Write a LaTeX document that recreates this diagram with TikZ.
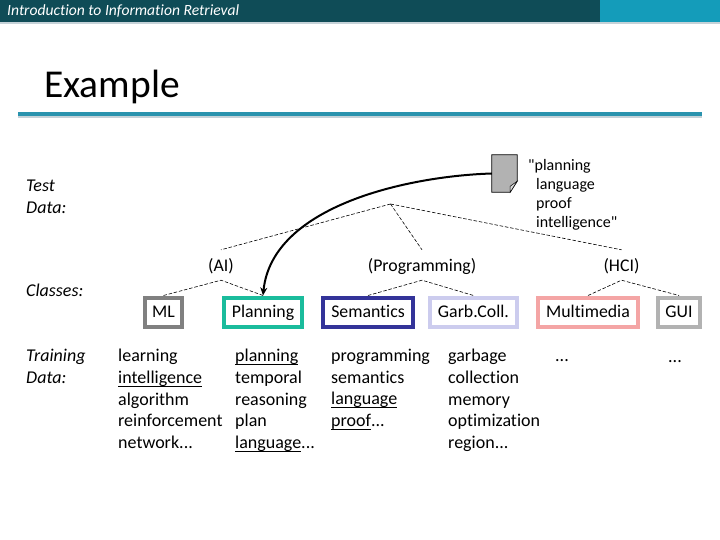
\documentclass[tikz,border=0pt]{standalone}
\usepackage{fontspec}
\newfontfamily\bodyfont[Ligatures=NoCommon]{Carlito}
\usetikzlibrary{positioning,arrows.meta}
\definecolor{hdark}{HTML}{0F4C57}
\definecolor{hlight}{HTML}{149CBA}
\definecolor{hrule}{HTML}{2A93AE}
\definecolor{hshade}{HTML}{C5D2D8}
\definecolor{docgray}{HTML}{B2B2B2}
\definecolor{cml}{HTML}{808080}
\definecolor{cplan}{HTML}{1ABC9C}
\definecolor{csem}{HTML}{333399}
\definecolor{cgarb}{HTML}{CCCCEE}
\definecolor{cmulti}{HTML}{F4A5A5}
\tikzset{cbox/.style={draw,line width=4pt,fill=white,inner sep=0pt,minimum height=29pt,text height=10pt,text depth=0pt,font=\fontsize{17.8}{20}\selectfont},
	 cname/.style={inner sep=0pt,minimum height=30pt,text height=12pt,text depth=0pt,font=\fontsize{17.8}{20}\selectfont},
	 wlist/.style={inner sep=0pt,anchor=north west,align=left,font=\fontsize{18}{21.7}\selectfont},
	 side/.style={inner sep=0pt,anchor=north west,align=left,font=\fontsize{18}{22}\selectfont\itshape},
	 tree/.style={black,line width=0.6pt,dash pattern=on 3.5pt off 1.8pt},
	 x=1pt,y=-1pt
	 }
\newsavebox\uwbox
\newcommand{\uw}[1]{\sbox\uwbox{#1}\rlap{\rule[-3.5pt]{\wd\uwbox}{1.2pt}}\usebox\uwbox}

\begin{document}
\bodyfont
\begin{tikzpicture}
	\useasboundingbox (0,0) rectangle (720,540);
	\fill[hdark] (0,0) rectangle (600,22);
	\fill[hlight] (600,0) rectangle (720,22);
	\fill[hshade] (0,22) rectangle (720,24);
	\fill[hshade] (18,116) rectangle (702,118);
	\fill[hrule] (18,112) rectangle (702,116);
	\node[inner sep=0pt,anchor=west,text=white] (course) at (7,11) {\fontsize{15.6}{18}\selectfont\itshape Introduction to Information Retrieval};
	\node[inner sep=0pt,anchor=west] (title) at (44,87) {\fontsize{39.5}{42}\selectfont Example};

	\node[side] (test) at (26,180) {Test\\Data:};
	\node[side] (classes) at (26,284) {Classes:};
	\node[side] (train) at (26,349) {Training\\Data:};

	\coordinate (root) at (390.5,204);
	\node[cname] (ai) at (221,265) {(AI)};
	\node[cname] (prog) at (422,265) {(Programming)};
	\node[cname] (hci) at (621.5,265) {(HCI)};

	\node[cbox,draw=cml,minimum width=37pt] (ml) at (163.5,312) {ML};
	\node[cbox,draw=cplan,minimum width=78pt] (plan) at (263,312) {Planning};
	\node[cbox,draw=csem,minimum width=90pt] (sem) at (368,312) {Semantics};
	\node[cbox,draw=cgarb,minimum width=87pt] (garb) at (473.5,312) {Garb.Coll.};
	\node[cbox,draw=cmulti,minimum width=100pt] (multi) at (588,312) {Multimedia};
	\node[cbox,draw=docgray,minimum width=42pt] (gui) at (679,312) {GUI};

	\draw[tree] (root) -- (ai.north); \draw[tree] (root) -- (prog.north); \draw[tree] (root) -- (hci.north);
	\draw[tree] (ml.north) -- (ai.south) -- (plan.north);
	\draw[tree] (sem.north) -- (prog.south) -- (garb.north);
	\draw[tree] (multi.north) -- (hci.south) -- (gui.north);

	\node[wlist] (w1) at (118,349) {learning\\\uw{intelligence}\\algorithm\\reinforcement\\network...};
	\node[wlist] (w2) at (235,349) {\uw{planning}\\temporal\\reasoning\\plan\\\uw{language}...};
	\node[wlist] (w3) at (331,349) {programming\\semantics\\\uw{language}\\\uw{proof}...};
	\node[wlist] (w4) at (448,349) {garbage\\collection\\memory\\optimization\\region...};
	\node[wlist,anchor=base west] (w5) at (555,361) {...};
	\node[wlist,anchor=base west] (w6) at (668,362) {...};

	\node[inner sep=0pt,minimum width=25pt,minimum height=37pt] (doc) at (504.5,173.5) {};
	\filldraw[fill=docgray,draw=black,line width=0.8pt] (doc.north west) -- (doc.north east) -- ([yshift=11pt]doc.south east) -- ([xshift=-7pt]doc.south east) -- (doc.south west) -- cycle;
	\filldraw[fill=docgray!50,draw=black,line width=0.5pt] ([yshift=11pt]doc.south east) -- ([xshift=-7pt,yshift=6pt]doc.south east) -- ([xshift=-7pt]doc.south east) -- cycle;
	\node[inner sep=0pt,anchor=north west,align=left,font=\fontsize{16}{19}\selectfont] (query) at (528,159) {"planning\\\hspace*{8pt}language\\\hspace*{8pt}proof\\\hspace*{8pt}intelligence"};

	\draw[-{Stealth[length=8pt,width=7pt]},line width=2pt] (doc.west) .. controls (410,176) and (272,205) .. (plan.north);
\end{tikzpicture}
\end{document}
